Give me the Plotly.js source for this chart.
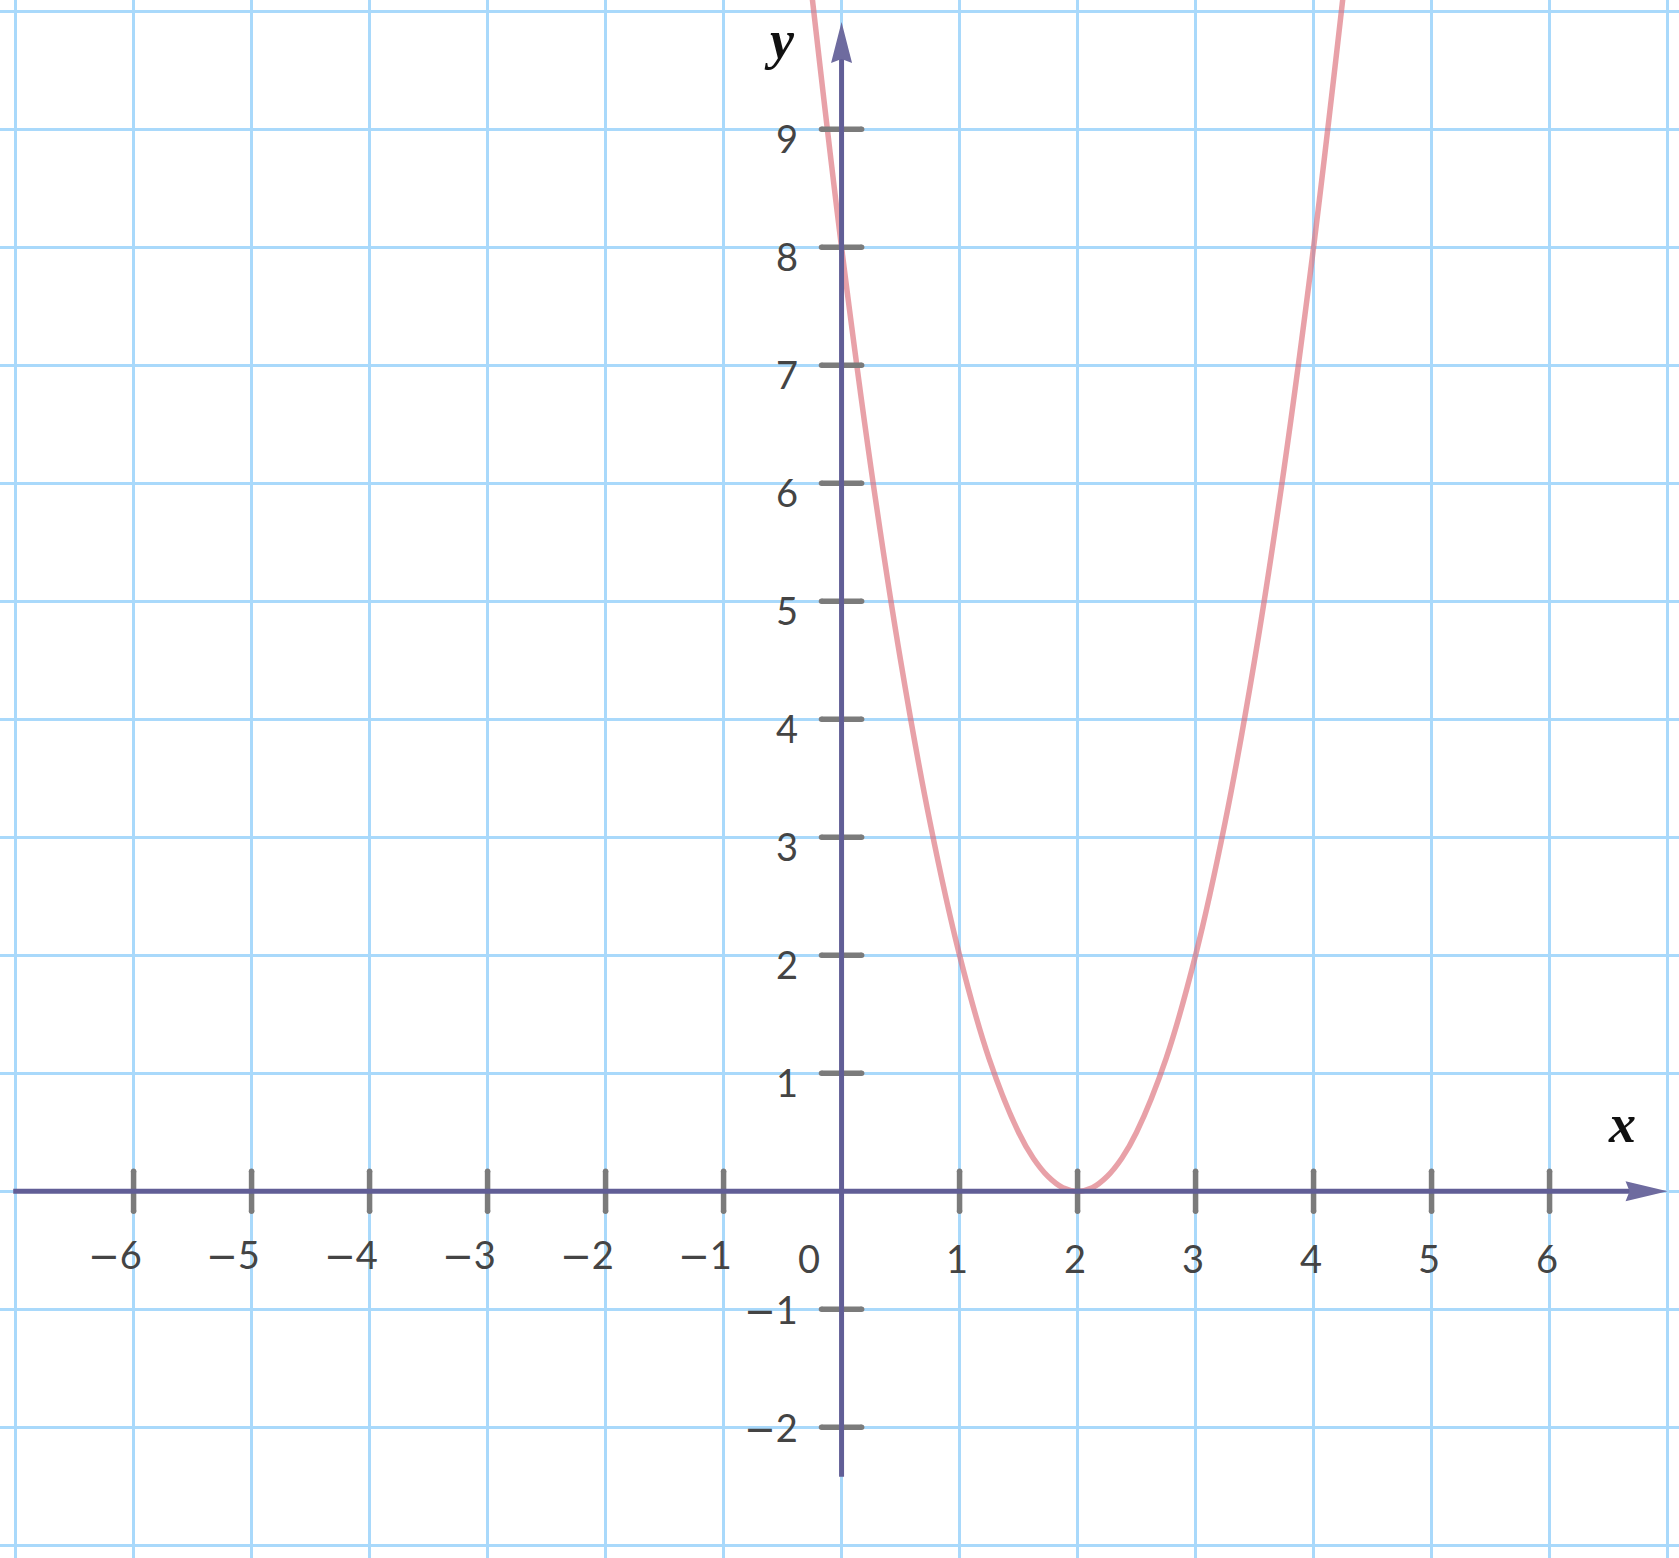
<!DOCTYPE html>
<html>
<head>
<meta charset="utf-8">
<script src="https://cdn.plot.ly/plotly-3.0.1.min.js"></script>
<style>
  html, body { margin: 0; padding: 0; background: #ffffff; }
  #parabolaPlot { width: 1679px; height: 1558px; }
</style>
</head>
<body>
<div id="parabolaPlot"></div>
<script>
// curve points (vertex at (2, 0))
let curveX = [-0.25, 0, 0.25, 0.5, 0.75, 1, 1.25, 1.5, 1.625, 1.75, 1.875, 2, 2.125, 2.25, 2.375, 2.5, 2.75, 3, 3.25, 3.5, 3.75, 4, 4.25];
let curveY = [10.125, 8, 6.125, 4.5, 3.125, 2, 1.125, 0.5, 0.28, 0.125, 0.03, 0, 0.03, 0.125, 0.28, 0.5, 1.125, 2, 3.125, 4.5, 6.125, 8, 10.125];

// tick marks and their labels
let xTickVals = [-6, -5, -4, -3, -2, -1, 1, 2, 3, 4, 5, 6];
let xTickLabels = ["\u22126", "\u22125", "\u22124", "\u22123", "\u22122", "\u22121", "1", "2", "3", "4", "5", "6"];
let yTickVals = [-2, -1, 1, 2, 3, 4, 5, 6, 7, 8, 9];
let yTickLabels = ["\u22122", "\u22121", "1", "2", "3", "4", "5", "6", "7", "8", "9"];

// long minus sign like the reference
var fmtLabel = function (s) {
  return s.replace("\u2212", "<span style='font-family:\"DejaVu Sans\"'>\u2212</span>");
};

var cb_parabolaPlot = function () {
  let tickHalf = 0.17;
  let labelFont = { family: "Lato, 'Noto Sans', sans-serif", size: 38, color: "#444444" };
  let titleFont = { family: "'Liberation Serif', serif", size: 54, color: "#111111" };

  let curve = {
    x: curveX,
    y: curveY,
    mode: "lines",
    line: { color: "rgba(220,110,122,0.65)", width: 5.5, shape: "spline", smoothing: 1 },
    hoverinfo: "skip",
  };

  // tick marks built from the tick arrays (null breaks between segments)
  let xtX = [], xtY = [];
  xTickVals.forEach(function (v) {
    xtX.push(v, v, null);
    xtY.push(-tickHalf, tickHalf, null);
  });
  let ytX = [], ytY = [];
  yTickVals.forEach(function (v) {
    ytX.push(-tickHalf, tickHalf, null);
    ytY.push(v, v, null);
  });
  let tickStyle = {
    mode: "lines+markers",
    line: { color: "#7b7b7b", width: 5.5 },
    marker: { color: "#7b7b7b", size: 5.5 },
    hoverinfo: "skip",
  };
  let xTicks = Object.assign({ x: xtX, y: xtY }, tickStyle);
  let yTicks = Object.assign({ x: ytX, y: ytY }, tickStyle);

  let annotations = [];
  xTickVals.forEach(function (v, i) {
    annotations.push({
      x: v + 0.085, y: v < 0 ? -0.54 : -0.565,
      xref: "x", yref: "y",
      text: fmtLabel(xTickLabels[i]),
      showarrow: false, xanchor: "right", yanchor: "middle",
      font: labelFont,
    });
  });
  yTickVals.forEach(function (v, i) {
    annotations.push({
      x: -0.35, y: v < 0 ? v : v - 0.07,
      xref: "x", yref: "y",
      text: fmtLabel(yTickLabels[i]),
      showarrow: false, xanchor: "right", yanchor: "middle",
      font: labelFont,
    });
  });
  annotations.push({
    x: -0.276, y: -0.565, xref: "x", yref: "y", text: "0",
    showarrow: false, xanchor: "center", yanchor: "middle", font: labelFont,
  });
  annotations.push({
    x: 6.614, y: 0.57, xref: "x", yref: "y", text: "<b><i>x</i></b>",
    showarrow: false, xanchor: "center", yanchor: "middle", font: titleFont,
  });
  annotations.push({
    x: -0.522, y: 9.76, xref: "x", yref: "y", text: "<b><i>y</i></b>",
    showarrow: false, xanchor: "center", yanchor: "middle", font: titleFont,
  });

  let axisColor = "#615e96";
  let arrowColor = "#6e6b9f";
  let shapes = [
    // axis lines
    { type: "line", xref: "x", yref: "y", x0: -7.02, x1: 6.75, y0: 0, y1: 0,
      line: { color: axisColor, width: 5 } },
    { type: "line", xref: "x", yref: "y", x0: 0, x1: 0, y0: -2.42, y1: 9.6,
      line: { color: axisColor, width: 5 } },
    // arrow heads, in pixels around the tip
    { type: "path", xref: "x", yref: "y", xsizemode: "pixel", ysizemode: "pixel",
      xanchor: 7.0, yanchor: 0,
      path: "M0,0 L-42,10 L-38,0 L-42,-10 Z",
      fillcolor: arrowColor, line: { width: 0 } },
    { type: "path", xref: "x", yref: "y", xsizemode: "pixel", ysizemode: "pixel",
      xanchor: 0, yanchor: 9.91,
      path: "M0,0 L-10.5,-41 L0,-37 L10.5,-41 Z",
      fillcolor: arrowColor, line: { width: 0 } },
  ];

  let gridAxis = {
    showgrid: true,
    gridcolor: "#a9d9fb",
    gridwidth: 2.5,
    dtick: 1,
    tick0: 0,
    zeroline: false,
    showline: false,
    showticklabels: false,
    ticks: "",
    fixedrange: true,
  };

  let layout = {
    width: 1679,
    height: 1558,
    margin: { l: 0, r: 0, b: 0, t: 0, pad: 0 },
    showlegend: false,
    paper_bgcolor: "#ffffff",
    plot_bgcolor: "#ffffff",
    xaxis: Object.assign({ range: [-7.132, 7.097] }, gridAxis),
    yaxis: Object.assign({ range: [-3.108, 10.096] }, gridAxis),
    shapes: shapes,
    annotations: annotations,
  };

  let config = { staticPlot: true, displayModeBar: false };

  Plotly.newPlot("parabolaPlot", [curve, xTicks, yTicks], layout, config);
};

if (document.readyState === "complete" || document.readyState !== "loading") {
  cb_parabolaPlot();
} else {
  document.addEventListener("DOMContentLoaded", cb_parabolaPlot);
}
</script>
</body>
</html>
